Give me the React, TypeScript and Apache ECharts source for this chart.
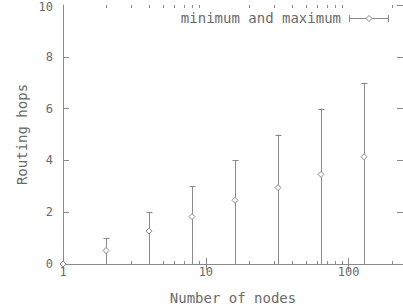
import React, { useEffect, useRef } from "react";
import * as echarts from "echarts";

const nodes = [1, 2, 4, 8, 16, 32, 64, 128];
const minHops = [0, 0, 0, 0, 0, 0, 0, 0];
const maxHops = [0, 1, 2, 3, 4, 5, 6, 7];
const meanHops = [0, 0.52, 1.27, 1.83, 2.46, 2.95, 3.46, 4.14];
const xMinorTicks = [2, 3, 4, 5, 6, 7, 8, 9, 20, 30, 40, 50, 60, 70, 80, 90, 200];
const yMaxLabel = "10";
const legendLabel = "minimum and maximum";
const xName = "Number of nodes";
const yName = "Routing hops";

const LINE = "#8a8a8a";
const TEXT = "#6a6a6a";
const FONT = "DejaVu Sans Mono";

export default function App() {
  const ref = useRef<HTMLDivElement>(null);
  useEffect(() => {
    if (!ref.current) return;
    const chart = echarts.init(ref.current, undefined, { renderer: "svg" });
    const lineStyle = { color: LINE, width: 1 };
    const xFormatter = (v: number) => {
      const l = Math.log10(v);
      return Math.abs(l - Math.round(l)) < 1e-6 ? String(Math.round(v)) : "";
    };
    const baseX = {
      type: "log" as const,
      logBase: 10,
      min: 1,
      max: 240,
      splitLine: { show: false },
      minorTick: { show: false },
      axisLine: { show: true, lineStyle },
      axisTick: { show: true, inside: true, length: 6, lineStyle },
    };
    const baseY = {
      type: "value" as const,
      min: 0,
      max: 10,
      interval: 2,
      splitLine: { show: false },
      axisTick: { show: true, inside: true, length: 6, lineStyle },
    };
    const option: any = {
      animation: false,
      backgroundColor: "#ffffff",
      grid: { left: 63, right: 0, top: 5, bottom: 42, containLabel: false, outerBoundsMode: "none" },
      xAxis: [
        {
          ...baseX,
          position: "bottom",
          axisLabel: {
            color: TEXT,
            fontFamily: FONT,
            fontSize: 12,
            margin: 2,
            formatter: xFormatter,
            showMaxLabel: false,
          },
          name: xName,
          nameLocation: "middle",
          nameGap: 27,
          nameTextStyle: { color: TEXT, fontFamily: FONT, fontSize: 14 },
        },
        {
          ...baseX,
          position: "top",
          axisLabel: { show: false },
        },
      ],
      yAxis: [
        {
          ...baseY,
          position: "left",
          axisLine: { show: true, lineStyle },
          axisLabel: { color: TEXT, fontFamily: FONT, fontSize: 12, margin: 10, showMaxLabel: false },
          name: yName,
          nameLocation: "middle",
          nameGap: 34,
          nameTextStyle: { color: TEXT, fontFamily: FONT, fontSize: 14 },
        },
        {
          ...baseY,
          position: "right",
          axisLine: { show: false },
          axisLabel: { show: false },
        },
      ],
      graphic: [
        {
          type: "text",
          right: 403 - 53,
          top: 1,
          style: {
            text: yMaxLabel,
            fill: TEXT,
            font: `12px "${FONT}"`,
            textAlign: "right",
          },
        },
        {
          type: "text",
          right: 403 - 341,
          top: 11,
          style: {
            text: legendLabel,
            fill: TEXT,
            font: `14px "${FONT}"`,
            textAlign: "right",
          },
        },
        {
          type: "group",
          children: [
            { type: "line", shape: { x1: 349, y1: 18.5, x2: 389, y2: 18.5 }, style: { stroke: LINE, lineWidth: 1 } },
            { type: "line", shape: { x1: 349.5, y1: 15, x2: 349.5, y2: 22 }, style: { stroke: LINE, lineWidth: 1 } },
            { type: "line", shape: { x1: 388.5, y1: 15, x2: 388.5, y2: 22 }, style: { stroke: LINE, lineWidth: 1 } },
            {
              type: "polygon",
              shape: { points: [[369, 15.5], [372, 18.5], [369, 21.5], [366, 18.5]] },
              style: { fill: "#ffffff", stroke: LINE, lineWidth: 1 },
            },
          ],
        },
      ],
      series: [
        {
          type: "custom",
          name: "minorTicks",
          xAxisIndex: 0,
          yAxisIndex: 0,
          silent: true,
          data: xMinorTicks.map((v) => [v, 0]),
          renderItem: (params: any, api: any) => {
            const p = api.coord([api.value(0), 0]);
            const cs = params.coordSys;
            const x = Math.round(p[0]) + 0.5;
            const st = { stroke: LINE, lineWidth: 1 };
            return {
              type: "group",
              children: [
                { type: "line", shape: { x1: x, y1: cs.y + cs.height, x2: x, y2: cs.y + cs.height - 3 }, style: st },
                { type: "line", shape: { x1: x, y1: cs.y, x2: x, y2: cs.y + 3 }, style: st },
              ],
            };
          },
        },
        {
          type: "custom",
          name: legendLabel,
          xAxisIndex: 0,
          yAxisIndex: 0,
          data: nodes.map((n, i) => [n, minHops[i], maxHops[i]]),
          renderItem: (params: any, api: any) => {
            const x = api.value(0);
            const lo = api.coord([x, api.value(1)]);
            const hi = api.coord([x, api.value(2)]);
            const px = Math.round(lo[0]) + 0.5;
            const cap = 3;
            const st = { stroke: LINE, lineWidth: 1 };
            return {
              type: "group",
              children: [
                { type: "line", shape: { x1: px, y1: lo[1], x2: px, y2: hi[1] }, style: st },
                { type: "line", shape: { x1: px - cap, y1: Math.round(hi[1]) + 0.5, x2: px + cap, y2: Math.round(hi[1]) + 0.5 }, style: st },
                { type: "line", shape: { x1: px - cap, y1: Math.round(lo[1]) + 0.5, x2: px + cap, y2: Math.round(lo[1]) + 0.5 }, style: st },
              ],
            };
          },
        },
        {
          type: "scatter",
          name: "mean",
          xAxisIndex: 0,
          yAxisIndex: 0,
          clip: false,
          symbol: "diamond",
          symbolSize: [6, 6],
          itemStyle: { color: "#ffffff", borderColor: LINE, borderWidth: 1, opacity: 1 },
          data: nodes.map((n, i) => [n, meanHops[i]]),
          z: 5,
        },
      ],
    };
    chart.setOption(option);
    return () => chart.dispose();
  }, []);
  return (
    <div
      ref={ref}
      style={{ position: "fixed", left: 0, top: 0, width: 403, height: 306, background: "#fff" }}
    />
  );
}
